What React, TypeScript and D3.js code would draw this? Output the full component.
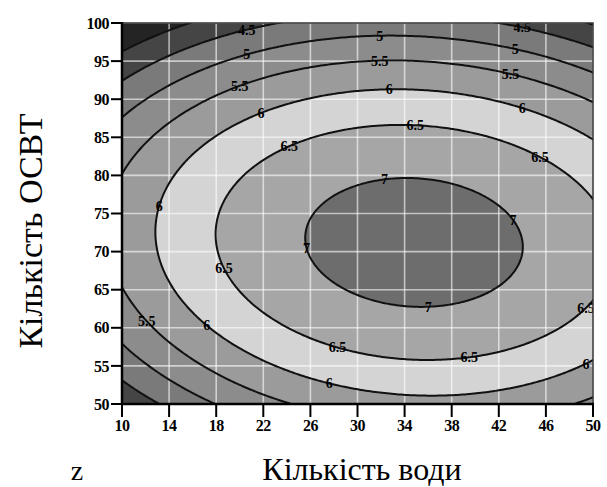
import { useMemo } from "react"
import * as d3 from "d3"

const xTicks = [10, 14, 18, 22, 26, 30, 34, 38, 42, 46, 50]
const yTicks = [50, 55, 60, 65, 70, 75, 80, 85, 90, 95, 100]
const levels = [4, 4.5, 5, 5.5, 6, 6.5, 7]
const bandColors = ["#242424", "#454545", "#7a7a7a", "#8c8c8c", "#9b9b9b", "#d4d4d4", "#a6a6a6", "#6d6d6d"]

// response surface: peak value, optimum point, curvature (xx, yy, xy)
const peak = 7.215
const optimum = [34.8, 71.2]
const curvature = [0.00253, 0.00302, 0.00038]

// contour labels: [level, solve along "x" or "y", value, branch]
const contourLabels: [number, string, number, number][] = [
    [4.5, "x", 20.6, 1], [4.5, "x", 44, 1],
    [5, "x", 20.6, 1], [5, "x", 31.9, 1], [5, "x", 43.4, 1],
    [5.5, "x", 20, 1], [5.5, "x", 31.9, 1], [5.5, "x", 43, 1],
    [6, "x", 21.8, 1], [6, "x", 32.7, 1], [6, "x", 44, 1],
    [6.5, "x", 24.2, 1], [6.5, "x", 34.9, 1], [6.5, "x", 45.5, 1],
    [7, "x", 32.3, 1], [7, "x", 43.2, 1], [7, "x", 36, -1], [7, "y", 70.5, -1],
    [6, "y", 76, -1], [6.5, "y", 67.8, -1],
    [5.5, "x", 12.1, -1], [6, "x", 17.2, -1],
    [6.5, "x", 28.3, -1], [6.5, "x", 39.5, -1], [6.5, "x", 49.4, -1],
    [6, "x", 27.6, -1], [6, "x", 49.4, -1],
]

const surface = (xv: number, yv: number) => {
    const dx = xv - optimum[0]
    const dy = yv - optimum[1]
    return peak - curvature[0] * dx * dx - curvature[1] * dy * dy - curvature[2] * dx * dy
}

const pointOnLevel = (level: number, along: string, at: number, side: number) => {
    const [ca, cb, cc] = curvature
    const k = peak - level
    if (along === "x") {
        const dx = at - optimum[0]
        const a = cb, b = cc * dx, c = ca * dx * dx - k
        const dy = (-b + side * Math.sqrt(Math.max(0, b * b - 4 * a * c))) / (2 * a)
        return [at, optimum[1] + dy]
    }
    const dy = at - optimum[1]
    const a = ca, b = cc * dy, c = cb * dy * dy - k
    const dx = (-b + side * Math.sqrt(Math.max(0, b * b - 4 * a * c))) / (2 * a)
    return [optimum[0] + dx, at]
}

export default function App() {
    const width = 607
    const height = 487
    const left = 122, right = 593, top = 23, bottom = 404

    const x = d3.scaleLinear().domain([10, 50]).range([left, right])
    const y = d3.scaleLinear().domain([50, 100]).range([bottom, top])

    const { bands, path } = useMemo(() => {
        // grid padded past the axes so no contour runs along the frame
        const step = 0.2
        const x0 = 8, y0 = 47
        const nx = 220, ny = 280
        const values = new Array(nx * ny)
        for (let j = 0; j < ny; j++) {
            for (let i = 0; i < nx; i++) {
                values[j * nx + i] = surface(x0 + (i + 0.5) * step, y0 + (j + 0.5) * step)
            }
        }
        const bands = d3.contours().size([nx, ny]).thresholds(levels)(values)
        const projection = d3.geoTransform({
            point(gx: number, gy: number) {
                this.stream.point(x(x0 + gx * step), y(y0 + gy * step))
            }
        })
        return { bands, path: d3.geoPath(projection) }
    }, [])

    const serif = "'Liberation Serif', 'DejaVu Serif', serif"

    return (
        <svg width={width} height={height} style={{ position: "absolute", left: 0, top: 0, background: "#fff" }}>
            <defs>
                <clipPath id="plot">
                    <rect x={left} y={top} width={right - left} height={bottom - top} />
                </clipPath>
            </defs>
            <g clipPath="url(#plot)">
                <rect x={left} y={top} width={right - left} height={bottom - top} fill={bandColors[0]} />
                {bands.map((b, i) => (
                    <path key={"f" + i} d={path(b as any) || ""} fill={bandColors[i + 1]} />
                ))}
                {xTicks.map(t => (
                    <line key={"gx" + t} x1={x(t)} x2={x(t)} y1={top} y2={bottom} stroke="#fff" strokeOpacity={0.6} strokeWidth={1.6} />
                ))}
                {yTicks.map(t => (
                    <line key={"gy" + t} x1={left} x2={right} y1={y(t)} y2={y(t)} stroke="#fff" strokeOpacity={0.6} strokeWidth={1.6} />
                ))}
                {bands.map((b, i) => (
                    <path key={"l" + i} d={path(b as any) || ""} fill="none" stroke="#111" strokeWidth={2} />
                ))}
                {contourLabels.map(([level, along, at, side], i) => {
                    const [px, py] = pointOnLevel(level, along, at, side)
                    return (
                        <text key={"c" + i} x={x(px)} y={y(py)} dy="0.35em" textAnchor="middle"
                            fontFamily={serif} fontWeight="bold" fontSize={14} fill="#000">{level}</text>
                    )
                })}
            </g>
            <rect x={left} y={top} width={right - left} height={bottom - top} fill="none" stroke="#333" strokeWidth={1.5} />
            <line x1={left} x2={left} y1={top - 1} y2={bottom + 1} stroke="#000" strokeWidth={2.5} />
            <line x1={left - 1} x2={right + 1} y1={bottom} y2={bottom} stroke="#000" strokeWidth={2.5} />
            {yTicks.map(t => (
                <g key={"ty" + t}>
                    <line x1={left - 11} x2={left} y1={y(t)} y2={y(t)} stroke="#000" strokeWidth={2} />
                    <text x={left - 13} y={y(t)} dy="0.35em" textAnchor="end" fontFamily={serif}
                        fontWeight="bold" fontSize={16} letterSpacing={-0.5}>{t}</text>
                </g>
            ))}
            {xTicks.map(t => (
                <g key={"tx" + t}>
                    <line x1={x(t)} x2={x(t)} y1={bottom} y2={bottom + 13} stroke="#000" strokeWidth={2} />
                    <text x={x(t)} y={bottom + 27} textAnchor="middle" fontFamily={serif}
                        fontWeight="bold" fontSize={16} letterSpacing={-0.5}>{t}</text>
                </g>
            ))}
            <text transform="translate(42, 231) rotate(-90)" textAnchor="middle"
                fontFamily={serif} fontSize={34}>Кількість ОСВТ</text>
            <text x={362} y={480} textAnchor="middle" fontFamily={serif} fontSize={32}>Кількість води</text>
            <text x={77} y={480} textAnchor="middle" fontFamily={serif} fontSize={28}>z</text>
        </svg>
    )
}
